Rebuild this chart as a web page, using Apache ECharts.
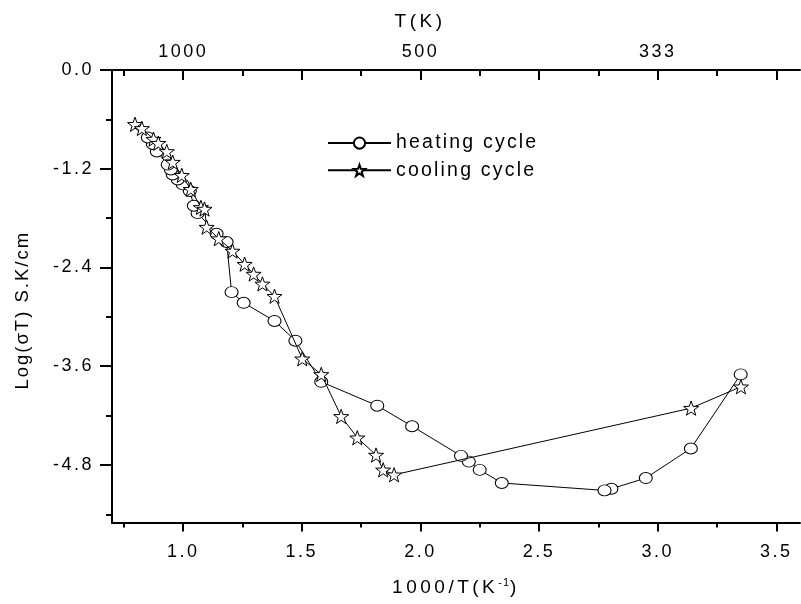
<!DOCTYPE html>
<html>
<head>
<meta charset="utf-8">
<script src="https://cdn.jsdelivr.net/npm/echarts@6/dist/echarts.min.js"></script>
<style>html,body{margin:0;padding:0;background:#fff;}#c{width:801px;height:604px;}</style>
</head>
<body>
<div id="c"></div>
<script>
// ---- data ----
const heatingX = [3.35, 3.14, 2.95, 2.805, 2.776, 2.343, 2.25, 2.204, 2.171, 1.965, 1.818, 1.582, 1.473, 1.385, 1.255, 1.204, 1.183, 1.141, 1.061, 1.045, 1.028, 0.998, 0.977, 0.956, 0.948, 0.935, 0.889, 0.872, 0.851];
const heatingY = [-3.70, -4.60, -4.96, -5.09, -5.11, -5.02, -4.86, -4.76, -4.69, -4.33, -4.08, -3.79, -3.29, -3.05, -2.83, -2.70, -2.09, -1.99, -1.74, -1.65, -1.47, -1.39, -1.33, -1.27, -1.21, -1.15, -0.99, -0.90, -0.82];
const coolingX = [0.797, 0.826, 0.875, 0.895, 0.931, 0.956, 0.994, 1.032, 1.075, 1.090, 1.099, 1.150, 1.208, 1.259, 1.297, 1.334, 1.385, 1.502, 1.582, 1.666, 1.734, 1.813, 1.843, 1.889, 3.141, 3.351];
const coolingY = [-0.66, -0.71, -0.84, -0.89, -0.99, -1.12, -1.28, -1.45, -1.67, -1.69, -1.91, -2.05, -2.20, -2.36, -2.48, -2.60, -2.75, -3.51, -3.70, -4.21, -4.47, -4.68, -4.86, -4.92, -4.11, -3.85];
const xMajorTicks = [1.0, 1.5, 2.0, 2.5, 3.0, 3.5];
const xMinorTicks = [0.75, 1.25, 1.75, 2.25, 2.75, 3.25];
const yMajorTicks = [0, -1.2, -2.4, -3.6, -4.8];
const yMinorTicks = [-0.6, -1.8, -3.0, -4.2, -5.4];
const topLabelValues = [1.0, 2.0, 3.0];
const topLabels = ['1000', '500', '333'];

// Wide letter spacing of the original typesetting (keyed by font size)
const SPACING = { '18': 2.5, '18.5': 2, '19': 3.5, '19.5': 2.2, '11': 1 };
(function () {
  const proto = window.CanvasRenderingContext2D && CanvasRenderingContext2D.prototype;
  if (!proto) return;
  const d = Object.getOwnPropertyDescriptor(proto, 'font');
  if (!d || !d.set || !('letterSpacing' in proto)) return;
  Object.defineProperty(proto, 'font', {
    configurable: true,
    get() { return d.get.call(this); },
    set(v) {
      d.set.call(this, v);
      const m = /(\d+(?:\.\d+)?)px/.exec(String(v));
      const s = m && SPACING[String(parseFloat(m[1]))];
      try { this.letterSpacing = (s || 0) + 'px'; } catch (e) {}
    }
  });
})();

const FONT = 'Arial, "Liberation Sans", sans-serif';
const STAR = 'path://M0,-10L2.35,-3.24L9.51,-3.09L3.8,1.24L5.88,8.09L0,4L-5.88,8.09L-3.8,1.24L-9.51,-3.09L-2.35,-3.24Z';
const zip = (a, b) => a.map((v, i) => [v, b[i]]);

const axLine = { show: true, onZero: false, lineStyle: { color: '#000', width: 2 } };
const base = { type: 'value', min: 0.7, max: 3.6, splitLine: { show: false }, gridIndex: 0 };

const chart = echarts.init(document.getElementById('c'), null, { renderer: 'canvas' });
chart.setOption({
  animation: false,
  backgroundColor: '#fff',
  textStyle: { fontFamily: FONT },
  grid: { left: 112, top: 70, right: 1, bottom: 80, containLabel: false },
  legend: {
    left: 327, top: 132, orient: 'vertical', padding: 0,
    itemWidth: 63, itemHeight: 14, itemGap: 5,
    textStyle: { fontSize: 19.5, color: '#000', fontFamily: FONT },
    data: ['heating cycle', 'cooling cycle']
  },
  xAxis: [
    Object.assign({}, base, {
      position: 'bottom',
      axisLine: axLine,
      axisTick: { show: true, inside: false, length: 9, lineStyle: { color: '#000', width: 2 }, customValues: xMajorTicks },
      axisLabel: { show: true, margin: 19, fontSize: 18, color: '#000', fontFamily: FONT, customValues: xMajorTicks, formatter: v => v.toFixed(1) },
      name: '1000/T(K{sup|-1})', nameLocation: 'middle', nameGap: 54,
      nameTextStyle: { fontSize: 19, color: '#000', fontFamily: FONT,
        rich: { sup: { fontSize: 11, verticalAlign: 'top', padding: [0, 0, 8, 0], color: '#000' } } }
    }),
    Object.assign({}, base, {
      position: 'bottom',
      axisLine: { show: false, onZero: false },
      axisTick: { show: true, inside: false, length: 5, lineStyle: { color: '#000', width: 2 }, customValues: xMinorTicks },
      axisLabel: { show: false }
    }),
    Object.assign({}, base, {
      position: 'top',
      axisLine: axLine,
      axisTick: { show: true, inside: true, length: 10, lineStyle: { color: '#000', width: 2 }, customValues: xMajorTicks },
      axisLabel: { show: true, margin: 8, fontSize: 18, color: '#000', fontFamily: FONT, customValues: topLabelValues,
        formatter: v => topLabels[topLabelValues.findIndex(t => Math.abs(t - v) < 1e-6)] },
      name: 'T(K)', nameLocation: 'middle', nameGap: 37,
      nameTextStyle: { fontSize: 19, color: '#000', fontFamily: FONT, padding: [0, 72, 0, 0] }
    }),
    Object.assign({}, base, {
      position: 'top',
      axisLine: { show: false, onZero: false },
      axisTick: { show: true, inside: true, length: 6, lineStyle: { color: '#000', width: 2 }, customValues: xMinorTicks },
      axisLabel: { show: false }
    })
  ],
  yAxis: [
    {
      type: 'value', min: -5.5, max: 0, position: 'left', splitLine: { show: false },
      axisLine: axLine,
      axisTick: { show: true, inside: false, length: 12, lineStyle: { color: '#000', width: 2 }, customValues: yMajorTicks },
      axisLabel: { show: true, margin: 18, fontSize: 18, color: '#000', fontFamily: FONT, customValues: yMajorTicks, formatter: v => v.toFixed(1) },
      name: 'Log(σT) S.K/cm', nameLocation: 'middle', nameGap: 79, nameRotate: 90,
      nameTextStyle: { fontSize: 18.5, color: '#000', fontFamily: FONT, padding: [0, 28, 0, 0] }
    },
    {
      type: 'value', min: -5.5, max: 0, position: 'left', splitLine: { show: false },
      axisLine: { show: false, onZero: false },
      axisTick: { show: true, inside: false, length: 6, lineStyle: { color: '#000', width: 2 }, customValues: yMinorTicks },
      axisLabel: { show: false }
    }
  ],
  series: [
    {
      name: 'heating cycle', type: 'line', xAxisIndex: 0, yAxisIndex: 0,
      data: zip(heatingX, heatingY),
      symbol: 'circle', symbolSize: [13, 11],
      lineStyle: { color: '#000', width: 1 },
      itemStyle: { color: '#fff', borderColor: '#000', borderWidth: 1 },
      z: 3
    },
    {
      name: 'cooling cycle', type: 'line', xAxisIndex: 0, yAxisIndex: 0,
      data: zip(coolingX, coolingY),
      symbol: STAR, symbolSize: 15, symbolKeepAspect: true,
      lineStyle: { color: '#000', width: 1 },
      itemStyle: { color: '#fff', borderColor: '#000', borderWidth: 1 },
      z: 4
    }
  ]
});
</script>
</body>
</html>
